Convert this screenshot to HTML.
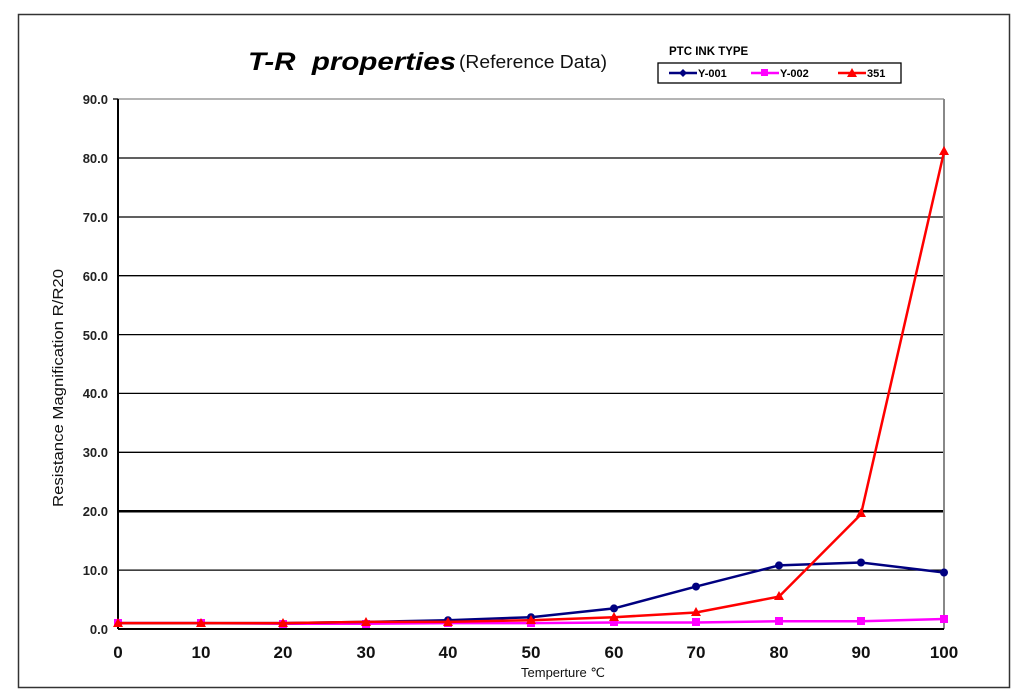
<!DOCTYPE html>
<html><head><meta charset="utf-8"><style>
html,body{margin:0;padding:0;background:#fff;}
svg{display:block;font-family:"Liberation Sans",Arial,sans-serif;}
</style></head><body>
<svg width="1024" height="698" viewBox="0 0 1024 698" xmlns="http://www.w3.org/2000/svg">
<rect x="18.5" y="14.5" width="991" height="673" fill="#fff" stroke="#333" stroke-width="1.5"/>
<text x="248" y="70" font-size="25" font-weight="bold" font-style="italic" textLength="208" lengthAdjust="spacingAndGlyphs" xml:space="preserve">T-R  properties</text>
<text x="459" y="68" font-size="18" fill="#111" textLength="148" lengthAdjust="spacingAndGlyphs">(Reference Data)</text>
<text x="669" y="55" font-size="11.5" font-weight="bold">PTC INK TYPE</text>
<rect x="658" y="63" width="243" height="20" fill="#fff" stroke="#000" stroke-width="1.3"/>
<g font-size="11" font-weight="bold">
<line x1="669" y1="73" x2="697" y2="73" stroke="#000080" stroke-width="2.5"/><path d="M683 69 L687 73 L683 77 L679 73Z" fill="#000080"/><text x="698" y="77">Y-001</text>
<line x1="751" y1="73" x2="779" y2="73" stroke="#ff00ff" stroke-width="2.5"/><rect x="761" y="69" width="7" height="7" fill="#ff00ff"/><text x="780" y="77">Y-002</text>
<line x1="838" y1="73" x2="866" y2="73" stroke="#ff0000" stroke-width="2.5"/><path d="M852 68 L857 77 L847 77Z" fill="#ff0000"/><text x="867" y="77">351</text>
</g>
<g stroke="#000" stroke-width="1.3">
<line x1="118" y1="99" x2="944" y2="99" stroke="#888"/>
<line x1="118" y1="158" x2="944" y2="158"/>
<line x1="118" y1="217" x2="944" y2="217"/>
<line x1="118" y1="275.7" x2="944" y2="275.7"/>
<line x1="118" y1="334.6" x2="944" y2="334.6"/>
<line x1="118" y1="393.4" x2="944" y2="393.4"/>
<line x1="118" y1="452.3" x2="944" y2="452.3"/>
<line x1="118" y1="511.2" x2="944" y2="511.2" stroke-width="2.5"/>
<line x1="118" y1="570.1" x2="944" y2="570.1"/>
<line x1="944" y1="99" x2="944" y2="629" stroke="#888" stroke-width="2"/>
<line x1="118" y1="99" x2="118" y2="629" stroke-width="2"/>
<line x1="118" y1="629" x2="944" y2="629" stroke-width="2"/>
<line x1="113" y1="99" x2="118" y2="99"/>
</g>
<g font-size="13" font-weight="bold" text-anchor="end" fill="#222">
<text x="108" y="104">90.0</text><text x="108" y="163">80.0</text><text x="108" y="222">70.0</text><text x="108" y="281">60.0</text><text x="108" y="340">50.0</text><text x="108" y="398">40.0</text><text x="108" y="457">30.0</text><text x="108" y="516">20.0</text><text x="108" y="575">10.0</text><text x="108" y="634">0.0</text>
</g>
<g font-size="17" font-weight="bold" text-anchor="middle" fill="#111">
<text x="118" y="658">0</text><text x="201" y="658">10</text><text x="283" y="658">20</text><text x="366" y="658">30</text><text x="448" y="658">40</text><text x="531" y="658">50</text><text x="614" y="658">60</text><text x="696" y="658">70</text><text x="779" y="658">80</text><text x="861" y="658">90</text><text x="944" y="658">100</text>
</g>
<text x="563" y="677" font-size="13" text-anchor="middle" fill="#111">Temperture ℃</text>
<text transform="translate(63,388) rotate(-90)" font-size="15" text-anchor="middle" fill="#111" textLength="238" lengthAdjust="spacingAndGlyphs">Resistance Magnification R/R20</text>
<!-- Y-002 -->
<polyline fill="none" stroke="#ff00ff" stroke-width="2.5" points="118,623.1 201,623.1 283,623.7 366,623.7 448,623.1 531,623.1 614,622.5 696,622.5 779,621.3 861,621.3 944,619"/>
<g fill="#ff00ff"><rect x="114" y="619" width="8" height="8"/><rect x="197" y="619" width="8" height="8"/><rect x="279" y="620" width="8" height="8"/><rect x="362" y="620" width="8" height="8"/><rect x="444" y="619" width="8" height="8"/><rect x="527" y="619" width="8" height="8"/><rect x="610" y="618" width="8" height="8"/><rect x="692" y="618" width="8" height="8"/><rect x="775" y="617" width="8" height="8"/><rect x="857" y="617" width="8" height="8"/><rect x="940" y="615" width="8" height="8"/></g>
<!-- Y-001 -->
<polyline fill="none" stroke="#000080" stroke-width="2.5" points="118,623.1 201,623.1 283,623.1 366,621.9 448,620.2 531,617.2 614,608.4 696,586.6 779,565.4 861,562.5 944,572.5"/>
<g fill="#000080"><circle cx="448" cy="620.2" r="4"/><circle cx="531" cy="617.2" r="4"/><circle cx="614" cy="608.4" r="4"/><circle cx="696" cy="586.6" r="4"/><circle cx="779" cy="565.4" r="4"/><circle cx="861" cy="562.5" r="4"/><circle cx="944" cy="572.5" r="4"/></g>
<!-- 351 -->
<polyline fill="none" stroke="#ff0000" stroke-width="2.5" points="118,623.1 201,623.1 283,623.1 366,621.9 448,621.9 531,620.2 614,617.2 696,612.5 779,596.6 861,514.2 944,152"/>
<g fill="#ff0000"><path d="M118 618 L123 627 L113 627Z"/><path d="M201 618 L206 627 L196 627Z"/><path d="M283 618 L288 627 L278 627Z"/><path d="M366 617 L371 626 L361 626Z"/><path d="M448 617 L453 626 L443 626Z"/><path d="M531 615 L536 624 L526 624Z"/><path d="M614 612 L619 621 L609 621Z"/><path d="M696 607 L701 616 L691 616Z"/><path d="M779 591 L784 600 L774 600Z"/><path d="M861 508 L866 517 L856 517Z"/><path d="M944 146 L949 155 L939 155Z"/></g>
</svg>
</body></html>
